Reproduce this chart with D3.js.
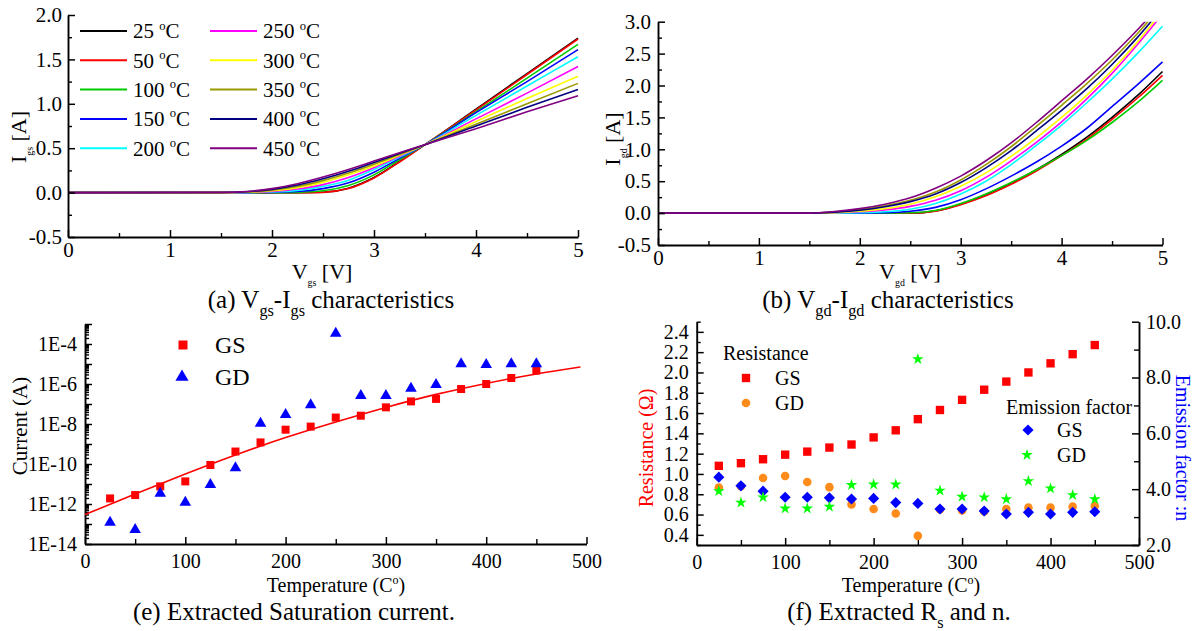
<!DOCTYPE html>
<html>
<head>
<meta charset="utf-8">
<script src="https://cdn.jsdelivr.net/npm/d3@7"></script>
<style>
  body { margin: 0; background: #fff; }
  svg { display: block; }
</style>
</head>
<body>
<svg id="fig" width="1197" height="631"></svg>
<script>
// ---------------- data ----------------
const temps = [25, 50, 100, 150, 200, 250, 300, 350, 400, 450];
const tempColors = ["#000000", "#ff0000", "#00cc00", "#0000ff", "#00ffff",
                    "#ff00ff", "#ffff00", "#999900", "#000080", "#800080"];

// (a) gate-source I-V sweeps, current in A
const vgs    = [0, 1.5, 1.75, 2.0, 2.25, 2.5, 2.75, 3.0, 3.25, 3.5, 4.0, 4.5, 5.0];
const igs25  = [0, 0, 0, 0, 0, 0.004, 0.05, 0.17, 0.35, 0.54, 0.94, 1.34, 1.74];
const igs50  = [0, 0, 0, 0, 0, 0.003, 0.045, 0.165, 0.345, 0.54, 0.93, 1.33, 1.73];
const igs100 = [0, 0, 0, 0, 0.003, 0.02, 0.08, 0.2, 0.37, 0.54, 0.91, 1.29, 1.67];
const igs150 = [0, 0, 0, 0.002, 0.012, 0.045, 0.11, 0.23, 0.385, 0.54, 0.9, 1.25, 1.61];
const igs200 = [0, 0, 0, 0.006, 0.025, 0.07, 0.14, 0.26, 0.4, 0.54, 0.87, 1.2, 1.53];
const igs250 = [0, 0, 0.002, 0.012, 0.04, 0.09, 0.17, 0.28, 0.41, 0.54, 0.83, 1.12, 1.42];
const igs300 = [0, 0, 0.004, 0.02, 0.055, 0.115, 0.2, 0.3, 0.42, 0.54, 0.8, 1.06, 1.31];
const igs350 = [0, 0, 0.006, 0.028, 0.07, 0.135, 0.22, 0.32, 0.43, 0.54, 0.77, 1.0, 1.23];
const igs400 = [0, 0.001, 0.009, 0.036, 0.085, 0.155, 0.24, 0.34, 0.44, 0.54, 0.75, 0.96, 1.16];
const igs450 = [0, 0.002, 0.012, 0.045, 0.1, 0.175, 0.26, 0.355, 0.45, 0.54, 0.72, 0.91, 1.09];

// (b) gate-drain I-V sweeps, current in A
const vgd    = [0, 1.5, 1.75, 2.0, 2.25, 2.5, 2.75, 3.0, 3.25, 3.5, 3.75, 4.0, 4.25, 4.5, 4.75, 5.0];
const igd25  = [0, 0, 0, 0, 0, 0, 0.035, 0.14, 0.29, 0.47, 0.68, 0.92, 1.19, 1.5, 1.84, 2.22];
const igd50  = [0, 0, 0, 0, 0, 0, 0.03, 0.13, 0.27, 0.45, 0.66, 0.9, 1.16, 1.47, 1.8, 2.16];
const igd100 = [0, 0, 0, 0, 0, 0.005, 0.04, 0.15, 0.3, 0.48, 0.68, 0.9, 1.14, 1.42, 1.73, 2.08];
const igd150 = [0, 0, 0, 0, 0.005, 0.03, 0.09, 0.21, 0.38, 0.58, 0.8, 1.05, 1.33, 1.67, 2.01, 2.37];
const igd200 = [0, 0, 0, 0.005, 0.02, 0.06, 0.15, 0.3, 0.5, 0.76, 1.06, 1.38, 1.73, 2.1, 2.5, 2.93];
const igd250 = [0, 0, 0.005, 0.02, 0.05, 0.105, 0.2, 0.35, 0.56, 0.82, 1.11, 1.43, 1.79, 2.19, 2.64, 3.12];
const igd300 = [0, 0, 0.008, 0.03, 0.07, 0.14, 0.255, 0.42, 0.63, 0.89, 1.18, 1.5, 1.85, 2.24, 2.68, 3.17];
const igd350 = [0, 0, 0.018, 0.055, 0.115, 0.2, 0.33, 0.52, 0.76, 1.04, 1.36, 1.69, 2.03, 2.4, 2.81, 3.27];
const igd400 = [0, 0, 0.015, 0.045, 0.1, 0.18, 0.3, 0.48, 0.71, 0.98, 1.29, 1.61, 1.95, 2.33, 2.75, 3.22];
const igd450 = [0, 0, 0.025, 0.07, 0.14, 0.24, 0.39, 0.58, 0.82, 1.1, 1.42, 1.76, 2.1, 2.47, 2.87, 3.3];

// (e) extracted saturation current, A
const tempPts = [25, 50, 75, 100, 125, 150, 175, 200, 225, 250, 275, 300, 325, 350, 375, 400, 425, 450];
const isGS = [1.9e-12, 2.8e-12, 7.6e-12, 1.35e-11, 8.9e-11, 4.2e-10, 1.2e-9, 5.2e-9, 7.4e-9,
              2.1e-8, 2.6e-8, 6.8e-8, 1.35e-7, 1.8e-7, 5.6e-7, 1.0e-6, 2.0e-6, 4.7e-6];
const isGD = [1.2e-13, 5.2e-14, 3.4e-12, 1.2e-12, 9.3e-12, 6.3e-11, 1.07e-8, 2.9e-8, 8.9e-8,
              3.4e-4, 2.6e-7, 2.6e-7, 6.0e-7, 9.3e-7, 1.0e-5, 9.3e-6, 1.0e-5, 1.0e-5];
const fitT  = [0, 50, 100, 150, 200, 250, 300, 350, 400, 450, 494];
const fitIs = [2.95e-13, 3.16e-12, 3.16e-11, 2.82e-10, 2.09e-9, 1.26e-8, 6.76e-8, 3.02e-7, 1.07e-6, 3.16e-6, 7.08e-6];
const isLabelExps = [-14, -12, -10, -8, -6, -4];

// (f) series resistance (ohm) and emission factor
const rsGS = [1.08, 1.106, 1.145, 1.19, 1.22, 1.26, 1.29, 1.36, 1.43, 1.54, 1.63, 1.73, 1.83, 1.91, 2.0, 2.09, 2.18, 2.27];
const rsGD = [0.865, 0.88, 0.96, 0.98, 0.92, 0.87, 0.70, 0.655, 0.61, 0.39, 0.65, 0.64, 0.63, 0.655, 0.668, 0.668, 0.678, 0.685];
const nGS  = [4.43, 4.12, 3.93, 3.71, 3.71, 3.69, 3.65, 3.67, 3.52, 3.49, 3.29, 3.29, 3.22, 3.11, 3.17, 3.11, 3.17, 3.19];
const nGD  = [3.93, 3.52, 3.71, 3.31, 3.31, 3.37, 4.15, 4.17, 4.17, 8.66, 3.95, 3.73, 3.71, 3.64, 4.29, 4.03, 3.79, 3.64];

const igsSeries = [igs25, igs50, igs100, igs150, igs200, igs250, igs300, igs350, igs400, igs450];
const igdSeries = [igd25, igd50, igd100, igd150, igd200, igd250, igd300, igd350, igd400, igd450];

// ---------------- helpers ----------------
const SERIF = "'Liberation Serif','Times New Roman',serif";
const svg = d3.select("#fig");

// text with sub/superscript runs; parts are strings or [text, "sub"|"sup", scale]
function rich(parent, x, y, parts, size, opts = {}) {
  const t = parent.append("text")
    .attr("x", x).attr("y", y)
    .attr("font-family", SERIF).attr("font-size", size)
    .attr("fill", opts.fill || "#000");
  if (opts.anchor) t.attr("text-anchor", opts.anchor);
  if (opts.transform) t.attr("transform", opts.transform);
  if (opts.dy) t.attr("dy", opts.dy);
  let cur = 0;
  parts.forEach(p => {
    const [str, kind, scale] = typeof p === "string" ? [p, null, 1] : p;
    const off = kind === "sub" ? size * 0.3 : kind === "sup" ? -size * 0.42 : 0;
    const ts = t.append("tspan").text(str);
    if (off - cur !== 0) ts.attr("dy", off - cur);
    if (kind) ts.attr("font-size", size * (scale || 0.6));
    cur = off;
  });
  return t;
}

function drawAxis(parent, orient, scale, pos, major, minor, fmt, o) {
  const gen = { left: d3.axisLeft, right: d3.axisRight, bottom: d3.axisBottom }[orient];
  const tr = orient === "bottom" ? `translate(0,${pos})` : `translate(${pos},0)`;
  if (minor && minor.length) {
    const gm = parent.append("g").attr("transform", tr)
      .call(gen(scale).tickValues(minor).tickSize(-o.minorLen).tickSizeOuter(0).tickFormat(""));
    gm.select(".domain").remove();
    gm.selectAll(".tick line").attr("stroke", "#000").attr("stroke-width", 1.4);
  }
  const g = parent.append("g").attr("transform", tr)
    .call(gen(scale).tickValues(major).tickSize(-o.majorLen).tickSizeOuter(0)
      .tickPadding(o.pad).tickFormat(fmt));
  g.attr("font-family", SERIF).attr("font-size", o.font);
  g.select(".domain").attr("stroke", "#000").attr("stroke-width", 1.9);
  g.selectAll(".tick line").attr("stroke", "#000").attr("stroke-width", 1.5);
  g.selectAll(".tick text").attr("fill", "#000");
  return g;
}

const fmt1 = d => d.toFixed(1);

// ---------------- (a) Vgs-Igs ----------------
{
  const g = svg.append("g");
  const x = d3.scaleLinear().domain([0, 5]).range([68, 578]);
  const y = d3.scaleLinear().domain([-0.5, 2]).range([237, 15]);

  const line = d3.line().x(d => x(d[0])).y(d => y(d[1])).curve(d3.curveMonotoneX);
  igsSeries.forEach((s, i) => {
    g.append("path")
      .attr("d", line(vgs.map((v, k) => [v, s[k]])))
      .attr("fill", "none").attr("stroke", tempColors[i]).attr("stroke-width", 1.6);
  });

  drawAxis(g, "bottom", x, 237, [0, 1, 2, 3, 4, 5], [0.5, 1.5, 2.5, 3.5, 4.5], d => d,
           { majorLen: 7, minorLen: 4, pad: 5, font: 21 });
  drawAxis(g, "left", y, 68, [-0.5, 0, 0.5, 1, 1.5, 2], [-0.25, 0.25, 0.75, 1.25, 1.75], fmt1,
           { majorLen: 7, minorLen: 4, pad: 6, font: 21 });

  // legend, two columns of five
  temps.forEach((t, i) => {
    const col = Math.floor(i / 5), row = i % 5;
    const lx = col === 0 ? 80 : 210, ly = 31 + row * 29.3;
    g.append("line").attr("x1", lx).attr("x2", lx + 47).attr("y1", ly).attr("y2", ly)
      .attr("stroke", tempColors[i]).attr("stroke-width", 2);
    rich(g, lx + 53, ly, [t + " ", ["o", "sup", 0.6], "C"], 21, { dy: "0.35em" });
  });

  rich(g, 0, 0, ["I", ["gs", "sub", 0.45], " [A]"], 22,
       { anchor: "middle", transform: "translate(26,137) rotate(-90)" });
  rich(g, 322, 279, ["V", ["gs", "sub", 0.45], " [V]"], 22, { anchor: "middle" });
  rich(g, 331, 308, ["(a) V", ["gs", "sub", 0.65], "-I", ["gs", "sub", 0.65], " characteristics"], 25, { anchor: "middle" });
}

// ---------------- (b) Vgd-Igd ----------------
{
  const g = svg.append("g");
  const x = d3.scaleLinear().domain([0, 5]).range([658, 1162.5]);
  const y = d3.scaleLinear().domain([-0.5, 3]).range([245, 21.7]);

  svg.append("defs").append("clipPath").attr("id", "clipB")
    .append("rect").attr("x", x(0)).attr("y", y(3)).attr("width", x(5) - x(0) + 2).attr("height", y(-0.5) - y(3));

  const line = d3.line().x(d => x(d[0])).y(d => y(d[1])).curve(d3.curveMonotoneX);
  const lines = g.append("g").attr("clip-path", "url(#clipB)");
  igdSeries.forEach((s, i) => {
    lines.append("path")
      .attr("d", line(vgd.map((v, k) => [v, s[k]])))
      .attr("fill", "none").attr("stroke", tempColors[i]).attr("stroke-width", 1.6);
  });

  drawAxis(g, "bottom", x, 245, [0, 1, 2, 3, 4, 5], [0.5, 1.5, 2.5, 3.5, 4.5], d => d,
           { majorLen: 7, minorLen: 4, pad: 5, font: 21 });
  drawAxis(g, "left", y, 658, [-0.5, 0, 0.5, 1, 1.5, 2, 2.5, 3],
           [-0.25, 0.25, 0.75, 1.25, 1.75, 2.25, 2.75], fmt1,
           { majorLen: 7, minorLen: 4, pad: 7, font: 21 });

  rich(g, 0, 0, ["I", ["gd", "sub", 0.45], " [A]"], 22,
       { anchor: "middle", transform: "translate(620,139) rotate(-90)" });
  rich(g, 910, 279, ["V", ["gd", "sub", 0.45], " [V]"], 22, { anchor: "middle" });
  rich(g, 888, 308, ["(b) V", ["gd", "sub", 0.65], "-I", ["gd", "sub", 0.65], " characteristics"], 25, { anchor: "middle" });
}

// ---------------- (e) saturation current ----------------
{
  const g = svg.append("g");
  const x = d3.scaleLinear().domain([0, 500]).range([85, 586.5]);
  const y = d3.scaleLog().domain([1e-14, 1e-3]).range([544, 324]);

  const decades = d3.range(-14, -2).map(e => +("1e" + e));
  const minor = [];
  d3.range(-14, -3).forEach(e => { for (let m = 2; m <= 9; m++) minor.push(+(m + "e" + e)); });

  drawAxis(g, "bottom", x, 544, [0, 100, 200, 300, 400, 500], [50, 150, 250, 350, 450], d => d,
           { majorLen: 7, minorLen: 5, pad: 10, font: 20 });
  drawAxis(g, "left", y, 85, decades, minor,
           d => { const e = Math.round(Math.log10(d)); return isLabelExps.includes(e) ? "1E" + e : ""; },
           { majorLen: 7, minorLen: 4, pad: 8, font: 20 });

  const fit = d3.line().x(d => x(d[0])).y(d => y(d[1])).curve(d3.curveMonotoneX);
  g.append("path").attr("d", fit(fitT.map((t, i) => [t, fitIs[i]])))
    .attr("fill", "none").attr("stroke", "#ff0000").attr("stroke-width", 1.6);

  const sq = d3.symbol().type(d3.symbolSquare).size(64);
  const tri = d3.symbol().type(d3.symbolTriangle).size(58);
  g.append("g").selectAll("path").data(tempPts).join("path")
    .attr("d", sq).attr("fill", "#ff0000")
    .attr("transform", (t, i) => `translate(${x(t)},${y(isGS[i])})`);
  g.append("g").selectAll("path").data(tempPts).join("path")
    .attr("d", tri).attr("fill", "#0000ff")
    .attr("transform", (t, i) => `translate(${x(t)},${y(isGD[i])})`);

  // legend
  g.append("path").attr("d", d3.symbol().type(d3.symbolSquare).size(81)).attr("fill", "#ff0000")
    .attr("transform", "translate(183,345)");
  g.append("path").attr("d", d3.symbol().type(d3.symbolTriangle).size(75)).attr("fill", "#0000ff")
    .attr("transform", "translate(182,377)");
  rich(g, 215, 345, ["GS"], 24, { dy: "0.35em" });
  rich(g, 215, 377, ["GD"], 24, { dy: "0.35em" });

  rich(g, 0, 0, ["Current (A)"], 21, { anchor: "middle", transform: "translate(27,426) rotate(-90)" });
  rich(g, 336, 592, ["Temperature (C", ["o", "sup", 0.6], ")"], 20, { anchor: "middle" });
  rich(g, 294, 620, ["(e) Extracted Saturation current."], 25, { anchor: "middle" });
}

// ---------------- (f) Rs and n ----------------
{
  const g = svg.append("g");
  const x = d3.scaleLinear().domain([0, 500]).range([696.7, 1139]);
  const yL = d3.scaleLinear().domain([0.3, 2.5]).range([545, 321.7]);
  const yR = d3.scaleLinear().domain([2, 10]).range([545, 321.7]);

  drawAxis(g, "bottom", x, 545, [0, 100, 200, 300, 400, 500], [50, 150, 250, 350, 450], d => d,
           { majorLen: 7, minorLen: 5, pad: 10, font: 20 });
  drawAxis(g, "left", yL, 696.7, d3.range(0.4, 2.41, 0.2).map(v => +v.toFixed(1)),
           d3.range(0.3, 2.51, 0.2).map(v => +v.toFixed(1)), fmt1,
           { majorLen: 7, minorLen: 4, pad: 8, font: 20 });
  // right axis: ticks point inward (to the left)
  const gr = g.append("g").attr("transform", "translate(1139,0)");
  const gm = gr.append("g").call(d3.axisRight(yR).tickValues([3, 5, 7, 9]).tickSize(-5).tickSizeOuter(0).tickFormat(""));
  gm.select(".domain").remove();
  gm.selectAll(".tick line").attr("stroke", "#000").attr("stroke-width", 1.4);
  const ga = gr.append("g").call(d3.axisRight(yR).tickValues([2, 4, 6, 8, 10]).tickSize(-7)
    .tickSizeOuter(0).tickPadding(7).tickFormat(fmt1));
  ga.attr("font-family", SERIF).attr("font-size", 20);
  ga.select(".domain").attr("stroke", "#000").attr("stroke-width", 1.9);
  ga.selectAll(".tick line").attr("stroke", "#000").attr("stroke-width", 1.5);
  ga.selectAll(".tick text").attr("fill", "#000");

  const sq = d3.symbol().type(d3.symbolSquare).size(70);
  const circ = d3.symbol().type(d3.symbolCircle).size(58);
  const dia = d3.symbol().type(d3.symbolSquare).size(62);
  const star = d3.symbol().type(d3.symbolStar).size(42);

  g.append("g").selectAll("path").data(tempPts).join("path")
    .attr("d", sq).attr("fill", "#ff0000")
    .attr("transform", (t, i) => `translate(${x(t)},${yL(rsGS[i])})`);
  g.append("g").selectAll("path").data(tempPts).join("path")
    .attr("d", circ).attr("fill", "#ff8c1a")
    .attr("transform", (t, i) => `translate(${x(t)},${yL(rsGD[i])})`);
  g.append("g").selectAll("path").data(tempPts).join("path")
    .attr("d", dia).attr("fill", "#0000ff")
    .attr("transform", (t, i) => `translate(${x(t)},${yR(nGS[i])}) rotate(45)`);
  g.append("g").selectAll("path").data(tempPts).join("path")
    .attr("d", star).attr("fill", "#00ff00")
    .attr("transform", (t, i) => `translate(${x(t)},${yR(nGD[i])})`);

  // legends
  rich(g, 723, 353, ["Resistance"], 20, { dy: "0.35em" });
  g.append("path").attr("d", sq).attr("fill", "#ff0000").attr("transform", "translate(746,378)");
  rich(g, 775, 378, ["GS"], 20, { dy: "0.35em" });
  g.append("path").attr("d", circ).attr("fill", "#ff8c1a").attr("transform", "translate(746,403)");
  rich(g, 775, 403, ["GD"], 20, { dy: "0.35em" });

  rich(g, 1006, 407, ["Emission factor"], 20, { dy: "0.35em" });
  g.append("path").attr("d", dia).attr("fill", "#0000ff").attr("transform", "translate(1028,430) rotate(45)");
  rich(g, 1057, 430, ["GS"], 20, { dy: "0.35em" });
  g.append("path").attr("d", star).attr("fill", "#00ff00").attr("transform", "translate(1027,455)");
  rich(g, 1057, 455, ["GD"], 20, { dy: "0.35em" });

  rich(g, 0, 0, ["Resistance (\u03A9)"], 20,
       { anchor: "middle", fill: "#ff0000", transform: "translate(653,448) rotate(-90)" });
  rich(g, 0, 0, ["Emission factor :n"], 20,
       { anchor: "middle", fill: "#0000ff", transform: "translate(1176,448) rotate(90)" });
  rich(g, 911, 592, ["Temperature (C", ["o", "sup", 0.6], ")"], 20, { anchor: "middle" });
  rich(g, 899, 620, ["(f) Extracted R", ["s", "sub", 0.65], " and n."], 25, { anchor: "middle" });
}
</script>
</body>
</html>
